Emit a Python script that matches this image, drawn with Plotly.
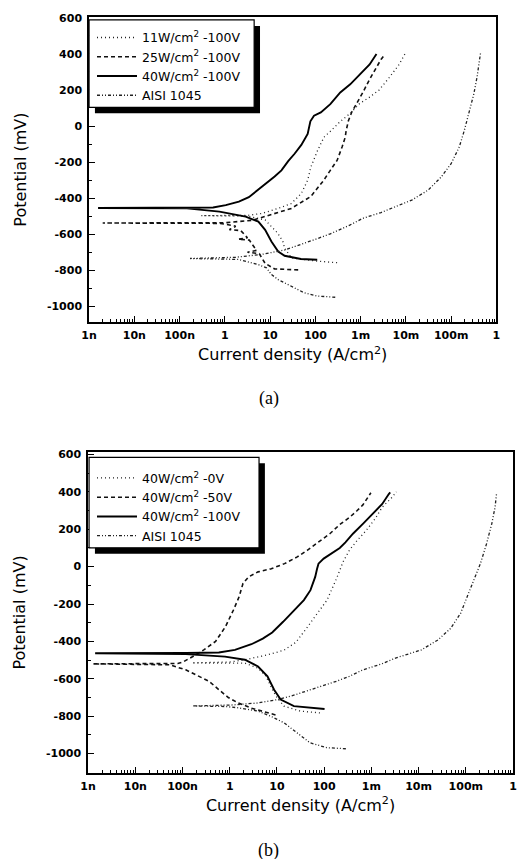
import plotly.graph_objects as go

# ---------------- data (current density in A/cm2, potential in mV) ----------------
# Panel (a)
a_names = ["11W/cm<sup>2</sup> -100V", "25W/cm<sup>2</sup> -100V", "40W/cm<sup>2</sup> -100V", "AISI 1045"]

a11_i = [3.02e-4, 1.12e-4, 2.95e-5, 2.09e-5, 1.91e-5, 1.48e-5, 1.07e-5, 7.76e-6, 3.16e-6, 3.02e-7,
         3.16e-6, 6.61e-6, 1.51e-5, 2.95e-5, 4.90e-5, 6.76e-5, 7.94e-5, 1.12e-4, 1.55e-4, 2.24e-4,
         3.55e-4, 5.89e-4, 9.55e-4, 1.58e-3, 2.57e-3, 4.27e-3, 7.08e-3, 9.55e-3]
a11_e = [-758, -750, -732, -677, -640, -595, -558, -521, -500, -497,
         -496, -485, -457, -430, -374, -301, -228, -136, -62, -25,
         25, 70, 125, 160, 200, 268, 341, 400]

a25_i = [4.17e-5, 1.26e-5, 7.76e-6, 5.75e-6, 3.16e-6, 5.01e-6, 3.47e-6, 2.00e-6, 3.16e-6, 2.24e-6,
         1.26e-6, 1.74e-6, 7.94e-7, 2.00e-9, 1.00e-6, 4.07e-6, 9.33e-6, 2.95e-5, 7.94e-5, 1.51e-4,
         2.14e-4, 3.02e-4, 3.89e-4, 4.57e-4, 4.79e-4, 5.37e-4, 6.31e-4, 8.13e-4, 1.12e-3, 1.58e-3,
         2.19e-3, 2.82e-3, 3.39e-3]
a25_e = [-798, -793, -762, -708, -700, -690, -633, -628, -620, -580,
         -575, -556, -540, -538, -537, -523, -496, -457, -391, -303,
         -246, -191, -117, -62, -26, 29, 75, 121, 186, 259,
         323, 369, 395]

a40_i = [1.10e-4, 4.79e-5, 2.09e-5, 1.51e-5, 1.07e-5, 7.76e-6, 5.50e-6, 2.88e-6, 7.59e-7, 1.45e-7,
         1.58e-9, 5.50e-7, 1.05e-6, 2.04e-6, 3.39e-6, 5.62e-6, 8.91e-6, 1.26e-5, 1.78e-5, 2.51e-5,
         3.47e-5, 4.90e-5, 6.76e-5, 7.41e-5, 7.76e-5, 9.33e-5, 1.32e-4, 2.14e-4, 3.55e-4, 5.89e-4,
         9.55e-4, 1.58e-3, 2.24e-3]
a40_e = [-742, -738, -720, -696, -641, -576, -530, -503, -475, -457,
         -455, -452, -439, -420, -395, -352, -310, -280, -246, -195,
         -154, -105, -44, 10, 26, 57, 75, 121, 186, 231,
         286, 341, 400]

aSt_i = [2.75e-4, 1.10e-4, 5.62e-5, 2.88e-5, 1.51e-5, 1.07e-5, 8.32e-6, 5.50e-6, 2.88e-6, 2.00e-6,
         1.70e-7, 1.74e-6, 6.61e-6, 2.09e-5, 1.10e-4, 2.14e-4, 5.75e-4, 1.12e-3, 2.82e-3, 5.89e-3,
         1.35e-2, 3.09e-2, 6.03e-2, 1.00e-1, 1.51e-1, 1.95e-1, 2.45e-1, 3.16e-1, 3.72e-1, 4.27e-1,
         4.47e-1]
aSt_e = [-950, -943, -925, -888, -852, -824, -787, -769, -751, -740,
         -735, -728, -712, -688, -625, -598, -550, -512, -480, -448,
         -411, -356, -283, -209, -117, -26, 66, 176, 268, 360,
         406]

# Panel (b)
b_names = ["40W/cm<sup>2</sup> -0V", "40W/cm<sup>2</sup> -50V", "40W/cm<sup>2</sup> -100V", "AISI 1045"]

b0_i = [8.13e-5, 3.16e-5, 1.41e-5, 9.55e-6, 7.41e-6, 5.89e-6, 3.98e-6, 2.09e-6, 1.58e-7, 1.00e-6,
        2.09e-6, 6.31e-6, 1.41e-5, 2.51e-5, 4.37e-5, 7.08e-5, 1.15e-4, 1.82e-4, 2.51e-4, 3.47e-4,
        5.01e-4, 7.76e-4, 1.23e-3, 1.70e-3, 2.75e-3, 3.39e-3]
b0_e = [-782, -773, -746, -693, -640, -587, -543, -516, -515, -510,
        -498, -472, -447, -405, -325, -250, -179, -65, 25, 90,
        140, 193, 260, 318, 371, 400]

b50_i = [9.33e-6, 5.37e-6, 2.88e-6, 1.51e-6, 9.33e-7, 5.89e-7, 3.63e-7, 2.24e-7, 1.17e-7, 5.37e-8,
         1.26e-9, 7.94e-8, 1.02e-7, 1.91e-7, 2.82e-7, 5.01e-7, 8.13e-7, 1.20e-6, 1.58e-6, 1.91e-6,
         2.51e-6, 3.98e-6, 7.59e-6, 1.45e-5, 2.69e-5, 4.37e-5, 8.32e-5, 1.32e-4, 2.14e-4, 3.47e-4,
         5.01e-4, 6.61e-4, 9.77e-4]
b50_e = [-793, -775, -757, -729, -700, -658, -613, -587, -552, -525,
         -520, -518, -510, -472, -445, -400, -321, -232, -161, -90,
         -55, -28, -11, 16, 52, 87, 140, 176, 225, 264,
         300, 330, 395]

b100_i = [1.02e-4, 5.01e-5, 2.29e-5, 1.20e-5, 8.71e-6, 6.31e-6, 3.98e-6, 2.09e-6, 7.94e-7, 1.17e-7,
          1.41e-9, 1.17e-7, 5.89e-7, 1.29e-6, 2.88e-6, 5.01e-6, 7.94e-6, 1.35e-5, 2.29e-5, 3.72e-5,
          5.13e-5, 6.46e-5, 7.08e-5, 7.59e-5, 9.77e-5, 1.55e-4, 2.14e-4, 2.82e-4, 4.07e-4, 6.61e-4,
          1.05e-3, 1.70e-3, 2.34e-3, 2.51e-3]
b100_e = [-761, -755, -746, -711, -658, -587, -534, -498, -481, -468,
          -463, -462, -459, -445, -415, -385, -352, -295, -232, -179,
          -126, -55, -11, 16, 43, 78, 100, 130, 176, 229,
          282, 335, 388, 397]

bSt_i = [2.88e-4, 1.12e-4, 5.01e-5, 2.69e-5, 1.41e-5, 7.41e-6, 3.98e-6, 1.51e-6, 7.94e-7, 1.62e-7,
         1.10e-6, 3.98e-6, 1.02e-5, 1.95e-5, 6.92e-5, 1.82e-4, 3.39e-4, 6.61e-4, 1.66e-3, 3.24e-3,
         1.15e-2, 2.57e-2, 4.79e-2, 7.76e-2, 1.07e-1, 1.48e-1, 2.04e-1, 2.75e-1, 3.55e-1, 4.17e-1,
         4.47e-1]
bSt_e = [-974, -968, -942, -888, -835, -800, -773, -755, -748, -745,
         -740, -729, -711, -693, -649, -613, -587, -552, -520, -489,
         -445, -392, -330, -250, -161, -73, 16, 122, 229, 318,
         388]

x_tickvals = [1e-9, 1e-8, 1e-7, 1e-6, 1e-5, 1e-4, 1e-3, 1e-2, 1e-1, 1]
x_ticktext = ["1n", "10n", "100n", "1", "10", "100", "1m", "10m", "100m", "1"]
y_tickvals = [-1000, -800, -600, -400, -200, 0, 200, 400, 600]
y_ticktext = ["-1000", "-800", "-600", "-400", "-200", "0", "200", "400", "600"]

# ---------------- styles ----------------
styles = [
    dict(color="#222", width=1.3, dash="1px,3px"),
    dict(color="#111", width=1.6, dash="4px,3px"),
    dict(color="#000", width=1.9, dash="solid"),
    dict(color="#222", width=1.3, dash="3px,2px,1px,2px,1px,2px"),
]

fig = go.Figure()

a_series = [(a11_i, a11_e), (a25_i, a25_e), (a40_i, a40_e), (aSt_i, aSt_e)]
b_series = [(b0_i, b0_e), (b50_i, b50_e), (b100_i, b100_e), (bSt_i, bSt_e)]

for k, (xi, ye) in enumerate(a_series):
    fig.add_trace(go.Scatter(x=xi, y=ye, mode="lines", name=a_names[k], line=styles[k],
                             xaxis="x", yaxis="y", legend="legend"))
for k, (xi, ye) in enumerate(b_series):
    fig.add_trace(go.Scatter(x=xi, y=ye, mode="lines", name=b_names[k], line=styles[k],
                             xaxis="x2", yaxis="y2", legend="legend2"))

W, H = 517, 859
def px(x):
    return x / W
def py(y):
    return 1 - y / H

minor_x = []
for e in range(-9, 0):
    for m in range(2, 10):
        minor_x.append(m * 10 ** e)

FAM = "DejaVu Sans, Liberation Sans, Arial, sans-serif"
tick_font = dict(family=FAM, size=11, color="black", weight="bold")
title_font = dict(family=FAM, size=16, color="black")

def xaxis_cfg(domain):
    return dict(domain=domain, type="log", range=[-9, 0], tickmode="array",
                tickvals=x_tickvals, ticktext=x_ticktext, ticks="inside", ticklen=6,
                tickwidth=1.3, tickcolor="black", showline=True, linecolor="black", linewidth=1.6,
                mirror=True, showgrid=False, zeroline=False, tickfont=tick_font,
                ticklabelstandoff=2,
                minor=dict(tickmode="array", tickvals=minor_x, ticks="inside", ticklen=3,
                           tickcolor="black", tickwidth=1, showgrid=False),
                title=dict(text="Current density (A/cm<sup>2</sup>)", font=title_font, standoff=8))

def yaxis_cfg(domain, rng, anchor):
    return dict(domain=domain, range=rng, tickmode="array", tickvals=y_tickvals,
                ticktext=y_ticktext, ticks="inside", ticklen=6, tickwidth=1.3, tickcolor="black",
                showline=True, linecolor="black", linewidth=1.6, mirror=True, showgrid=False,
                zeroline=False, tickfont=tick_font, anchor=anchor, ticklabelstandoff=3,
                minor=dict(tickmode="linear", tick0=0, dtick=100, ticks="inside", ticklen=3,
                           tickcolor="black", tickwidth=1, showgrid=False),
                title=dict(text="Potential (mV)", font=title_font, standoff=16))

legend_common = dict(bgcolor="rgba(0,0,0,0)", borderwidth=0,
                     font=dict(family=FAM, size=12.5, color="black"),
                     xanchor="left", yanchor="top", itemwidth=40, tracegroupgap=0,
                     traceorder="normal")

fig.update_layout(
    width=W, height=H, margin=dict(l=0, r=0, t=0, b=0),
    paper_bgcolor="white", plot_bgcolor="white", showlegend=True,
    xaxis=dict(xaxis_cfg([px(83), px(500)]), anchor="y"),
    yaxis=yaxis_cfg([py(319), py(12)], [-1088, 605], "x"),
    xaxis2=dict(xaxis_cfg([px(82), 1.0]), anchor="y2"),
    yaxis2=yaxis_cfg([py(772), py(450)], [-1101, 611], "x2"),
    legend=dict(legend_common, x=px(86), y=py(18)),
    legend2=dict(legend_common, x=px(86), y=py(461)),
)

# legend frames with drop shadows
for (x0, y0, x1, y1) in [(83, 15, 252, 103), (83, 455, 257, 546)]:
    fig.add_shape(type="rect", xref="paper", yref="paper", x0=px(x0 + 6), x1=px(x1 + 6),
                  y0=py(y1 + 6), y1=py(y0 + 6), fillcolor="black", line=dict(width=0), layer="above")
    fig.add_shape(type="rect", xref="paper", yref="paper", x0=px(x0), x1=px(x1),
                  y0=py(y1), y1=py(y0), fillcolor="white", line=dict(color="black", width=1.2),
                  layer="above")

cap_font = dict(family="Liberation Serif, Times New Roman, serif", size=18, color="black")
fig.add_annotation(text="(a)", xref="paper", yref="paper", x=px(267), y=py(396), showarrow=False,
                   font=cap_font, xanchor="center", yanchor="middle")
fig.add_annotation(text="(b)", xref="paper", yref="paper", x=px(267), y=py(850), showarrow=False,
                   font=cap_font, xanchor="center", yanchor="middle")

fig.write_html("out.html")
